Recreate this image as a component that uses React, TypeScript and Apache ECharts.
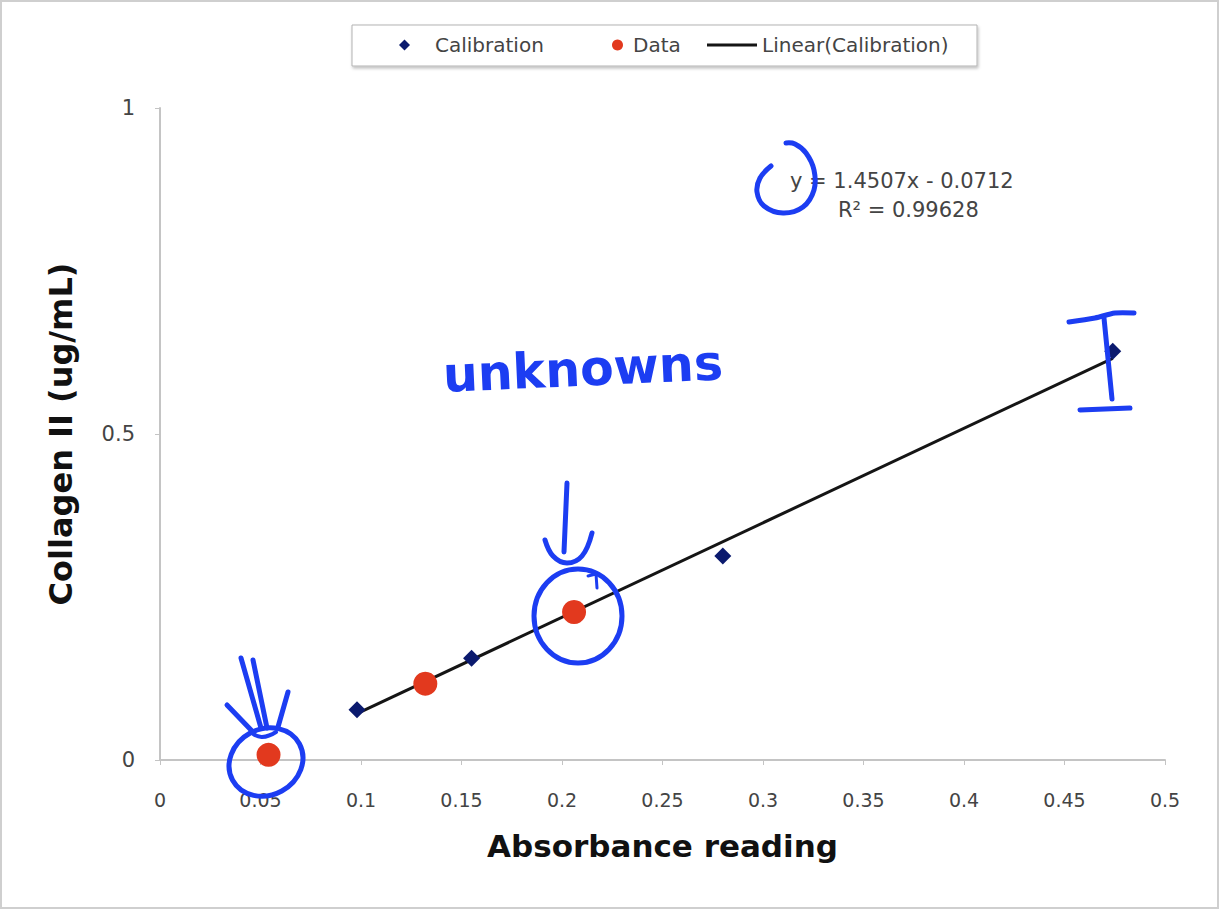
import React, { useEffect, useRef } from "react";
import * as echarts from "echarts";

// ---- data ----
const calibrationX = [0.098, 0.155, 0.28, 0.474];
const calibrationY = [0.077, 0.156, 0.313, 0.627];
const dataX = [0.054, 0.132, 0.206];
const dataY = [0.008, 0.117, 0.227];
// trendline endpoints (y = 1.4507x - 0.0712 over calibration range)
const trendX = [0.098, 0.474];
const trendY = [0.071, 0.616];
const xTicks = { min: 0, max: 0.5, interval: 0.05 };
const yTicks = { min: 0, max: 1, interval: 0.5 };
const equationLines = ["y = 1.4507x - 0.0712", "R² = 0.99628"];
const annotationWord = "unknowns";

const BLUE = "#1c3df2";
const FONT = "DejaVu Sans";

export default function App() {
  const ref = useRef<HTMLDivElement>(null);
  useEffect(() => {
    if (!ref.current) return;
    const chart = echarts.init(ref.current, undefined, { renderer: "svg" });
    const pen = { stroke: BLUE, lineWidth: 5, fill: "none", lineCap: "round", lineJoin: "round" };
    const legendText = { fontSize: 20, color: "#444", fontFamily: FONT };
    chart.setOption({
      animation: false,
      backgroundColor: "#ffffff",
      grid: { left: 160, right: 55, top: 108, bottom: 150 },
      legend: [
        {
          data: ["Calibration"], left: 399, top: 35, padding: 0, z: 10,
          icon: "diamond", itemWidth: 11, itemHeight: 11,
          textStyle: { ...legendText, padding: [0, 0, 0, 20] },
        },
        {
          data: ["Data"], left: 612, top: 35, padding: 0, z: 10,
          icon: "circle", itemWidth: 11, itemHeight: 11,
          textStyle: { ...legendText, padding: [0, 0, 0, 5] },
        },
        {
          data: ["Linear(Calibration)"], left: 707, top: 35, padding: 0, z: 10,
          icon: "rect", itemWidth: 50, itemHeight: 3,
          textStyle: legendText,
        },
      ],
      xAxis: {
        type: "value",
        min: xTicks.min, max: xTicks.max, interval: xTicks.interval,
        name: "Absorbance reading", nameLocation: "middle", nameGap: 70,
        nameTextStyle: { fontSize: 31, fontWeight: "bold", color: "#111", fontFamily: FONT },
        axisLine: { show: true, lineStyle: { color: "#c4c4c4", width: 2 } },
        axisTick: { show: true, length: 5, lineStyle: { color: "#c4c4c4", width: 1 } },
        axisLabel: {
          margin: 30, fontSize: 19, color: "#444", fontFamily: FONT,
          formatter: (v: number) => String(+v.toFixed(2)),
        },
        splitLine: { show: false },
      },
      yAxis: {
        type: "value",
        min: yTicks.min, max: yTicks.max, interval: yTicks.interval,
        name: "Collagen II (ug/mL)", nameLocation: "middle", nameGap: 83,
        nameTextStyle: { fontSize: 32, fontWeight: "bold", color: "#111", fontFamily: FONT },
        axisLine: { show: true, lineStyle: { color: "#c4c4c4", width: 2 } },
        axisTick: { show: true, length: 5, lineStyle: { color: "#c4c4c4", width: 1 } },
        axisLabel: {
          margin: 25, fontSize: 21, color: "#444", fontFamily: FONT,
          formatter: (v: number) => String(+v.toFixed(2)),
        },
        splitLine: { show: false },
      },
      series: [
        {
          name: "Linear(Calibration)", type: "line", z: 2,
          data: trendX.map((x, i) => [x, trendY[i]]),
          showSymbol: false, symbol: "none",
          lineStyle: { color: "#151515", width: 3 },
          itemStyle: { color: "#151515" },
        },
        {
          name: "Calibration", type: "scatter", z: 3,
          symbol: "diamond", symbolSize: 17,
          data: calibrationX.map((x, i) => [x, calibrationY[i]]),
          itemStyle: { color: "#0b1a6e", opacity: 1 },
        },
        {
          name: "Data", type: "scatter", z: 3,
          symbol: "circle", symbolSize: 24,
          data: dataX.map((x, i) => [x, dataY[i]]),
          itemStyle: { color: "#e2391e", opacity: 1 },
        },
      ],
      graphic: [
        // outer border
        { type: "rect", z: 0, silent: true, shape: { x: 1, y: 1, width: 1217, height: 907 },
          style: { fill: "none", stroke: "#cfcfcf", lineWidth: 2 } },
        // legend box
        { type: "rect", z: 1, silent: true, shape: { x: 352, y: 25, width: 625, height: 41 },
          style: { fill: "#fff", stroke: "#b3b3b3", lineWidth: 1, shadowBlur: 3,
            shadowOffsetX: 1, shadowOffsetY: 2, shadowColor: "rgba(0,0,0,0.25)" } },
        // equation
        { type: "text", z: 5, x: 790, y: 181,
          style: { text: equationLines[0], font: `21px "${FONT}"`, fill: "#444", verticalAlign: "middle" } },
        { type: "text", z: 5, x: 838, y: 210,
          style: { text: equationLines[1], font: `21px "${FONT}"`, fill: "#444", verticalAlign: "middle" } },
        // handwritten annotations
        { type: "polyline", z: 100, silent: true,
          shape: { points: [[771, 166], [760, 178], [757, 192], [764, 206], [783, 213], [803, 207], [814, 190], [814, 170], [806, 153], [795, 144], [786, 143]], smooth: 0.4 },
          style: pen },
        { type: "text", z: 100, x: 444, y: 400, rotation: 0.045, silent: true,
          style: { text: annotationWord, font: `bold 49px "${FONT}"`, fill: BLUE, verticalAlign: "bottom" } },
        // circle + arrow around 0.206
        { type: "ellipse", z: 100, silent: true, shape: { cx: 578, cy: 616, rx: 44, ry: 47 }, style: pen },
        { type: "polyline", z: 100, silent: true, shape: { points: [[567, 483], [564, 552]] }, style: pen },
        { type: "polyline", z: 100, silent: true,
          shape: { points: [[545, 540], [553, 556], [567, 563], [582, 556], [592, 533]], smooth: 0.4 }, style: pen },
        { type: "polyline", z: 100, silent: true,
          shape: { points: [[588, 576], [596, 574], [597, 588]] }, style: { ...pen, lineWidth: 3 } },
        // circle + arrows around 0.054
        { type: "ellipse", z: 100, silent: true, rotation: 0.5, x: 266, y: 762, shape: { cx: 0, cy: 0, rx: 38, ry: 33 }, style: pen },
        { type: "polyline", z: 100, silent: true, shape: { points: [[241, 658], [261, 728]] }, style: pen },
        { type: "polyline", z: 100, silent: true, shape: { points: [[253, 660], [267, 728]] }, style: pen },
        { type: "polyline", z: 100, silent: true, shape: { points: [[227, 705], [252, 731]] }, style: pen },
        { type: "polyline", z: 100, silent: true, shape: { points: [[288, 692], [278, 727]] }, style: pen },
        { type: "polyline", z: 100, silent: true,
          shape: { points: [[252, 733], [262, 737], [276, 732]], smooth: 0.5 }, style: { ...pen, lineWidth: 4 } },
        // I-beam at last calibration point
        { type: "polyline", z: 100, silent: true,
          shape: { points: [[1069, 322], [1095, 318], [1115, 313], [1134, 313]], smooth: 0.3 }, style: pen },
        { type: "polyline", z: 100, silent: true, shape: { points: [[1104, 318], [1112, 399]] }, style: pen },
        { type: "polyline", z: 100, silent: true, shape: { points: [[1080, 410], [1130, 408]] }, style: pen },
      ],
    });
    return () => chart.dispose();
  }, []);
  return (
    <div
      ref={ref}
      style={{ position: "fixed", left: 0, top: 0, width: 1220, height: 910, background: "#fff" }}
    />
  );
}
